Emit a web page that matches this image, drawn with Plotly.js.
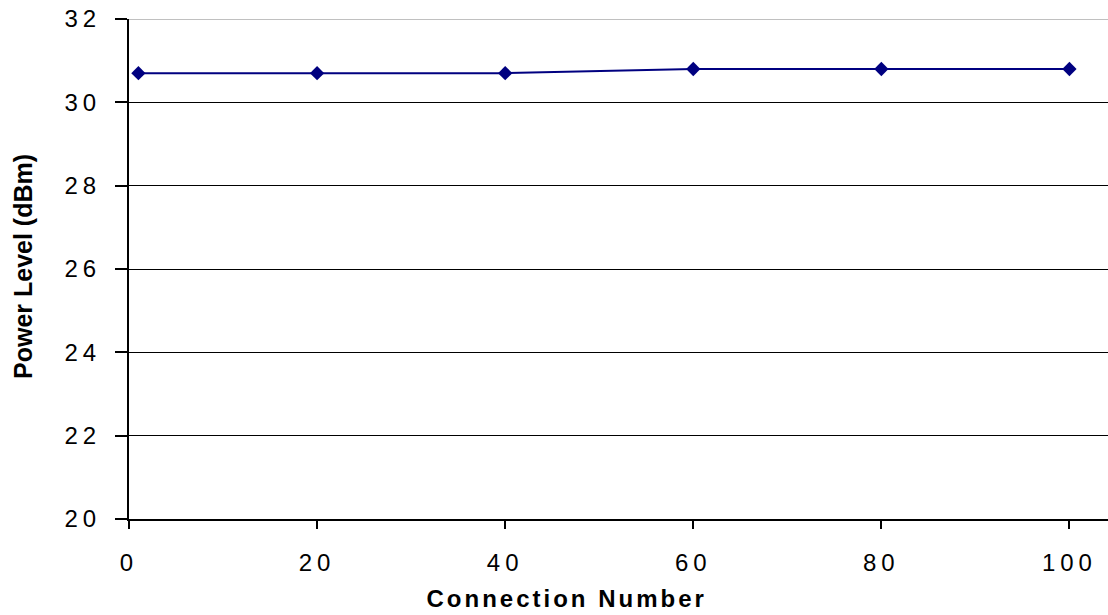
<!DOCTYPE html>
<html>
<head>
<meta charset="utf-8">
<script src="https://cdn.plot.ly/plotly-3.0.1.min.js"></script>
<style>
html,body{margin:0;padding:0;background:#fff;}
#chart{width:1108px;height:615px;}
.xtick text,.ytick text{letter-spacing:5px;}
.annotation[data-index="0"] text{letter-spacing:3px;}
</style>
</head>
<body>
<div id="chart"></div>
<script>
const connectionNumber = [1, 20, 40, 60, 80, 100];
const powerLevel = [30.7, 30.7, 30.7, 30.8, 30.8, 30.8];
const xTicks = [0, 20, 40, 60, 80, 100];
const yTicks = [20, 22, 24, 26, 28, 30, 32];
const xTitle = 'Connection Number';
const yTitle = 'Power Level (dBm)';

const trace = {
  x: connectionNumber,
  y: powerLevel,
  type: 'scatter',
  mode: 'lines+markers',
  line: {color: '#000080', width: 2},
  marker: {symbol: 'diamond', size: 11, color: '#000080'},
  hoverinfo: 'x+y'
};

const layout = {
  width: 1108,
  height: 615,
  margin: {l: 129, r: 0, t: 19, b: 96},
  paper_bgcolor: '#ffffff',
  plot_bgcolor: '#ffffff',
  showlegend: false,
  font: {family: 'Liberation Sans, Arial, sans-serif', size: 24, color: '#000'},
  xaxis: {
    range: [0, 104.1],
    tickvals: xTicks,
    ticktext: xTicks.map(String),
    ticks: 'outside',
    ticklen: 8,
    tickwidth: 2,
    tickcolor: '#000',
    ticklabelstandoff: 13,
    showline: true,
    linecolor: '#000',
    linewidth: 2,
    showgrid: false,
    zeroline: false,
    tickfont: {size: 24}
  },
  yaxis: {
    range: [20, 32],
    tickvals: yTicks,
    ticktext: yTicks.map(String),
    ticks: 'outside',
    ticklen: 12,
    tickwidth: 2,
    tickcolor: '#000',
    ticklabelstandoff: 9,
    showline: true,
    linecolor: '#000',
    linewidth: 2,
    showgrid: true,
    gridcolor: '#000',
    gridwidth: 1,
    zeroline: false,
    tickfont: {size: 24}
  },
  shapes: [{
    type: 'line', xref: 'paper', yref: 'y', x0: 0, x1: 1, y0: 32, y1: 32,
    line: {color: '#c0c0c0', width: 2}, layer: 'above'
  }],
  annotations: [
    {text: '<b>' + xTitle + '</b>', xref: 'paper', yref: 'paper',
     x: (566 - 129) / (1108 - 129), y: -(598 - 519) / 500, xanchor: 'center', yanchor: 'middle',
     showarrow: false, font: {size: 24, color: '#000'}},
    {text: '<b>' + yTitle + '</b>', xref: 'paper', yref: 'paper',
     x: -(129 - 23) / (1108 - 129), y: (519 - 267) / 500, xanchor: 'center', yanchor: 'middle',
     textangle: -90, showarrow: false, font: {size: 25, color: '#000'}}
  ]
};

Plotly.newPlot('chart', [trace], layout, {displayModeBar: false, staticPlot: true});
</script>
</body>
</html>
